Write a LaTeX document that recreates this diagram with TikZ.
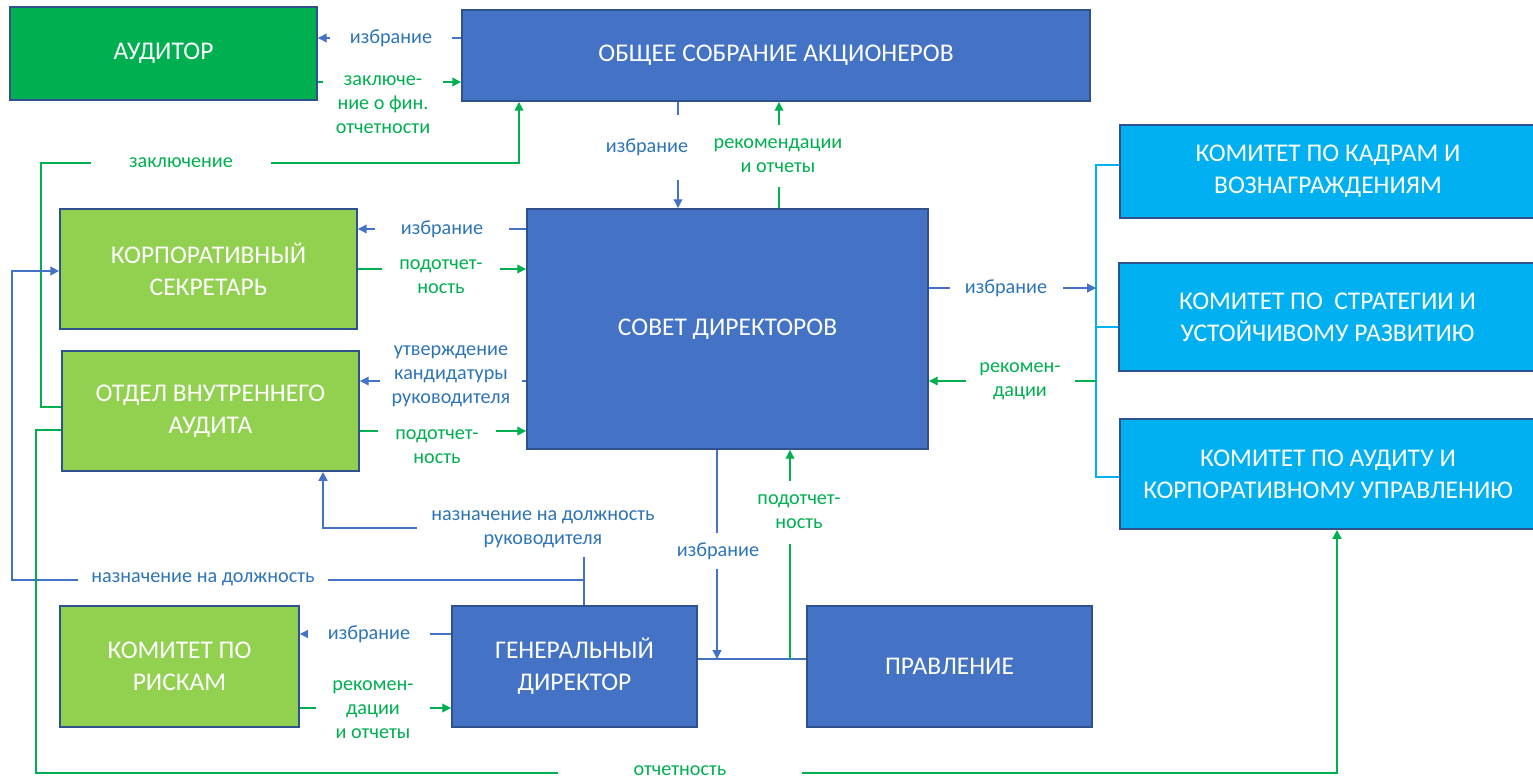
\documentclass[tikz,border=0pt]{standalone}
\usepackage{fontspec}
\setmainfont{Carlito}
\usepackage{tikz}
\usetikzlibrary{arrows.meta}
\usepackage{xcolor}
\definecolor{boxblue}{HTML}{4472C4}
\definecolor{edge}{HTML}{2F528F}
\definecolor{audgreen}{HTML}{00B050}
\definecolor{lightgreen}{HTML}{92D050}
\definecolor{comcyan}{HTML}{00B0F0}
\definecolor{lineblue}{HTML}{4472C4}
\definecolor{txtblue}{HTML}{2E75B6}
\definecolor{linegreen}{HTML}{00B050}
\newcommand{\boxfont}{\fontsize{14.5}{18}\selectfont}
\newcommand{\labfont}{\fontsize{11.5}{13.6}\selectfont}

\begin{document}
\begin{tikzpicture}[x=0.02cm,y=-0.02cm,>={Triangle[length=5pt,width=5pt]},
      box/.style={draw=edge,line width=1.1pt,text=white,align=center,font=\boxfont,inner sep=2pt},
      darkbox/.style={box,fill=boxblue},
      audbox/.style={box,fill=audgreen},
      unitbox/.style={box,fill=lightgreen},
      combox/.style={box,fill=comcyan},
      bl/.style={draw=lineblue,line width=0.6pt},
      blt/.style={draw=lineblue,line width=1.1pt},
      gl/.style={draw=linegreen,line width=0.6pt},
      glt/.style={draw=linegreen,line width=1.1pt},
      lab/.style={fill=white,align=center,font=\labfont,inner sep=1pt},
      blab/.style={lab,text=txtblue},
      glab/.style={lab,text=linegreen}]
    \useasboundingbox (0,0) rectangle (1533,778);

    % boxes
    \node[audbox,minimum width=6.14cm,minimum height=1.86cm] (aud) at (163.5,53.5) {АУДИТОР};
    \node[darkbox,minimum width=12.56cm,minimum height=1.82cm] (gsm) at (776,55.5) {ОБЩЕЕ СОБРАНИЕ АКЦИОНЕРОВ};
    \node[unitbox,minimum width=5.94cm,minimum height=2.4cm] (sec) at (208.5,269) {КОРПОРАТИВНЫЙ\\СЕКРЕТАРЬ};
    \node[unitbox,minimum width=5.94cm,minimum height=2.4cm] (ia) at (210.5,411) {ОТДЕЛ ВНУТРЕННЕГО\\АУДИТА};
    \node[darkbox,minimum width=8.02cm,minimum height=4.8cm] (board) at (727.5,329) {СОВЕТ ДИРЕКТОРОВ};
    \node[combox,minimum width=8.32cm,minimum height=1.86cm] (kc) at (1328,171.5) {КОМИТЕТ ПО КАДРАМ И\\ВОЗНАГРАЖДЕНИЯМ};
    \node[combox,minimum width=8.34cm,minimum height=2.16cm] (ks) at (1327.5,317) {КОМИТЕТ ПО\ \ СТРАТЕГИИ И\\УСТОЙЧИВОМУ РАЗВИТИЮ};
    \node[combox,minimum width=8.32cm,minimum height=2.2cm] (ka) at (1328,474) {КОМИТЕТ ПО АУДИТУ И\\КОРПОРАТИВНОМУ УПРАВЛЕНИЮ};
    \node[unitbox,minimum width=4.78cm,minimum height=2.42cm] (risk) at (179.5,666.5) {КОМИТЕТ ПО\\РИСКАМ};
    \node[darkbox,minimum width=4.9cm,minimum height=2.42cm] (gd) at (574.5,666.5) {ГЕНЕРАЛЬНЫЙ\\ДИРЕКТОР};
    \node[darkbox,minimum width=5.7cm,minimum height=2.42cm] (prav) at (949.5,666.5) {ПРАВЛЕНИЕ};

    \coordinate (brk) at (1096,288);
    \coordinate (brkr) at (1096,381);
    \coordinate (mgt) at (717,659);
    \coordinate (mgtr) at (790,659);

    % connectors
    \draw[bl,->] (gsm.west |- 0,38) -- (aud.east |- 0,38);
    \draw[gl,->] (aud.east |- 0,82) -- (gsm.west |- 0,82);
    \draw[glt,->] (ia.west |- 0,407) -| (41,163) -| (gsm.south -| 519,0);
    \draw[bl,->] (gsm.south -| 678,0) -- (board.north -| 678,0);
    \draw[gl,->] (board.north -| 779,0) -- (gsm.south -| 779,0);
    \draw[bl,->] (board.west |- 0,229) -- (sec.east |- 0,229);
    \draw[gl,->] (sec.east |- 0,269) -- (board.west |- 0,269);
    \draw[bl,->] (board.west |- 0,381) -- (ia.east |- 0,381);
    \draw[gl,->] (ia.east |- 0,431) -- (board.west |- 0,431);
    \draw[comcyan,line width=1.1pt] (kc.west |- 0,165) -| (1096,477) -- (ka.west |- 0,477);
    \draw[comcyan,line width=1.1pt] (1096,327) -- (ks.west |- 0,327);
    \draw[bl,->] (board.east |- brk) -- (brk);
    \draw[gl,->] (brkr) -- (board.east |- brkr);
    \draw[blt] (gd.east |- mgt) -- (prav.west |- mgt);
    \draw[bl,->] (board.south -| mgt) -- (mgt);
    \draw[gl,->] (mgtr) -- (board.south -| mgtr);
    \draw[blt,->] (gd.north -| 584,0) |- (323,528) -- (ia.south -| 323,0);
    \draw[blt,->] (gd.north -| 584,0) |- (12,580) |- (sec.west |- 0,271);
    \draw[bl,->] (gd.west |- 0,634) -- (risk.east |- 0,634);
    \draw[gl,->] (risk.east |- 0,708) -- (gd.west |- 0,708);
    \draw[glt,->] (ia.west |- 0,430) -| (36,773) -| (ka.south -| 1337,0);

    % labels
    \node[blab,minimum width=2.44cm] (l1) at (391,38) {избрание};
    \node[glab,minimum width=2.4cm] (l2) at (383,105) {заключе-\\ние о фин.\\отчетности};
    \node[glab,minimum width=3.6cm] (l3) at (181,163) {заключение};
    \node[blab,minimum width=2cm,minimum height=1.3cm] (l4) at (647,147) {избрание};
    \node[glab,minimum height=1.24cm] (l5) at (778,156) {рекомендации\\и отчеты};
    \node[blab,minimum width=2.7cm] (l6) at (442,229) {избрание};
    \node[glab,minimum width=2.36cm] (l7) at (441,277) {подотчет-\\ность};
    \node[blab,minimum width=2.85cm] (l8) at (451,376) {утверждение\\кандидатуры\\руководителя};
    \node[glab,minimum width=2.36cm] (l9) at (437,447) {подотчет-\\ность};
    \node[blab,minimum width=2.26cm] (l10) at (1006,288) {избрание};
    \node[glab,minimum width=2.18cm] (l11) at (1020,381) {рекомен-\\дации};
    \node[blab,minimum height=0.72cm] (l12) at (718,551) {избрание};
    \node[glab,minimum height=1.26cm] (l13) at (799,512) {подотчет-\\ность};
    \node[blab,minimum width=5.04cm,minimum height=1.12cm] (l14) at (543,529) {назначение на должность\\руководителя};
    \node[blab,minimum width=5cm] (l15) at (203,579) {назначение на должность};
    \node[blab,minimum width=2.44cm] (l16) at (369,634) {избрание};
    \node[glab,minimum width=2.3cm] (l17) at (373,710) {рекомен-\\дации\\и отчеты};
    \node[glab,minimum width=4.9cm] (l18) at (680,771) {отчетность};
  \end{tikzpicture}
\end{document}
